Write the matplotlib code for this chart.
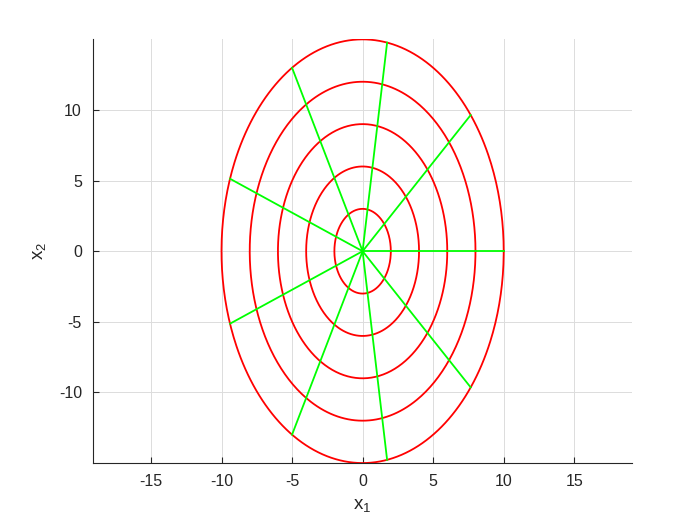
import numpy as np
import matplotlib.pyplot as plt

plt.rcParams['font.family'] = ['Liberation Sans', 'DejaVu Sans']
plt.rcParams['axes.unicode_minus'] = False

# ellipse semi-axes (x, y) and spoke angles in degrees
x_radii = [2, 4, 6, 8, 10]
y_radii = [3, 6, 9, 12, 15]
spoke_deg = [0, 40, 80, 120, 160, 200, 240, 280, 320]

xticks = [-15, -10, -5, 0, 5, 10, 15]
yticks = [-10, -5, 0, 5, 10]

fig = plt.figure(figsize=(7, 5.25), dpi=100)
ax = fig.add_axes([0.133, 0.118, 0.77, 0.807])

t = np.linspace(0, 2 * np.pi, 400)
for a, b in zip(x_radii, y_radii):
    ax.plot(a * np.cos(t), b * np.sin(t), color='red', lw=1.3)

a_out, b_out = x_radii[-1], y_radii[-1]
for d in spoke_deg:
    r = np.deg2rad(d)
    ax.plot([0, a_out * np.cos(r)], [0, b_out * np.sin(r)], color=(0, 1, 0), lw=1.3)

ax.set_xlim(-19.1, 19.1)
ax.set_ylim(-15, 15)
ax.set_xticks(xticks)
ax.set_yticks(yticks)
ax.grid(True, color='#dcdcdc', lw=0.7)
ax.set_axisbelow(True)
for s in ['top', 'right']:
    ax.spines[s].set_visible(False)
for s in ['left', 'bottom']:
    ax.spines[s].set_color('#262626')
    ax.spines[s].set_linewidth(0.8)
ax.tick_params(direction='in', length=4, colors='#262626', labelsize=11.5, width=0.8, pad=8)
ax.set_xlabel(r'$\mathregular{x_1}$', fontsize=13.5, color='#262626', labelpad=6)
ax.set_ylabel(r'$\mathregular{x_2}$', fontsize=13.5, color='#262626', labelpad=8)

fig.savefig('out.png')
